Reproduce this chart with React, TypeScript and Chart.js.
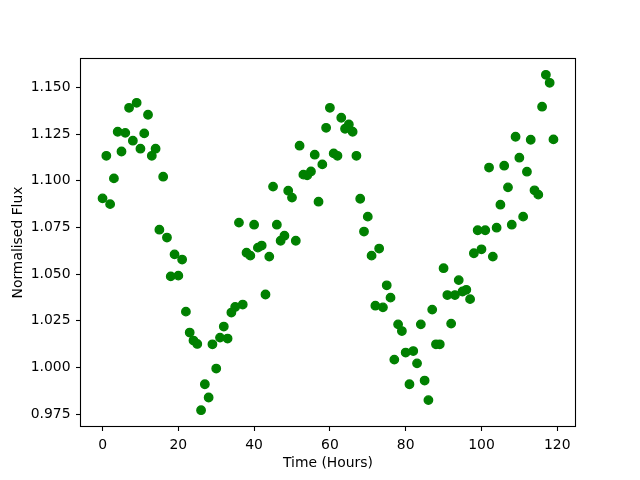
import { useEffect, useRef } from "react";
import { Chart, registerables } from "chart.js";

Chart.register(...registerables);

const hours = [
  0, 1, 2, 3, 4, 5, 6, 7, 8, 9, 10, 11, 12, 13, 14, 15, 16, 17, 18, 19,
  20, 21, 22, 23, 24, 25, 26, 27, 28, 29, 30, 31, 32, 33, 34, 35, 36, 37, 38, 39,
  40, 41, 42, 43, 44, 45, 46, 47, 48, 49, 50, 51, 52, 53, 54, 55, 56, 57, 58, 59,
  60, 61, 62, 63, 64, 65, 66, 67, 68, 69, 70, 71, 72, 73, 74, 75, 76, 77, 78, 79,
  80, 81, 82, 83, 84, 85, 86, 87, 88, 89, 90, 91, 92, 93, 94, 95, 96, 97, 98, 99,
  100, 101, 102, 103, 104, 105, 106, 107, 108, 109, 110, 111, 112, 113, 114, 115, 116, 117, 118, 119,
];

const flux = [
  1.0906, 1.1134, 1.0875, 1.1013, 1.1263, 1.1157, 1.1257, 1.1391, 1.1215, 1.1418,
  1.1172, 1.1254, 1.1354, 1.1134, 1.1172, 1.0738, 1.1022, 1.0696, 1.0488, 1.0606,
  1.0492, 1.0578, 1.0299, 1.0187, 1.0144, 1.0126, 0.9771, 0.991, 0.9839, 1.0124,
  0.9994, 1.016, 1.0219, 1.0155, 1.0294, 1.0324, 1.0776, 1.0337, 1.0615, 1.0599,
  1.0765, 1.0642, 1.0653, 1.0391, 1.0594, 1.0969, 1.0765, 1.0679, 1.0706, 1.0947,
  1.091, 1.0679, 1.1188, 1.1033, 1.1029, 1.105, 1.114, 1.0888, 1.1088, 1.1284,
  1.1391, 1.1147, 1.1134, 1.1338, 1.1279, 1.1302, 1.1263, 1.1134, 1.0904, 1.0728,
  1.0808, 1.0599, 1.0331, 1.0637, 1.0322, 1.044, 1.0374, 1.0042, 1.0231, 1.0195,
  1.008, 0.991, 1.0088, 1.0022, 1.0231, 0.993, 0.9825, 1.031, 1.0124, 1.0124,
  1.0532, 1.0388, 1.0235, 1.0388, 1.0468, 1.0407, 1.0416, 1.0366, 1.0612, 1.0735,
  1.0633, 1.0735, 1.1071, 1.0594, 1.0749, 1.0872, 1.1081, 1.0965, 1.0765, 1.1236,
  1.1124, 1.0808, 1.1049, 1.122, 1.0949, 1.0926, 1.1397, 1.1568, 1.1525, 1.1222,
];

const xTitle = "Time (Hours)";
const yTitle = "Normalised Flux";

const FONT = "DejaVu Sans";

const frameBox = {
  id: "frameBox",
  afterDraw(chart: any) {
    const { ctx, chartArea } = chart;
    ctx.save();
    ctx.strokeStyle = "#000";
    ctx.lineWidth = 1.1;
    ctx.strokeRect(
      Math.round(chartArea.left) + 0.5,
      Math.round(chartArea.top) + 0.5,
      Math.round(chartArea.right - chartArea.left) - 1,
      Math.round(chartArea.bottom - chartArea.top) - 1
    );
    ctx.restore();
  },
};

export default function App() {
  const ref = useRef<HTMLCanvasElement | null>(null);

  useEffect(() => {
    if (!ref.current) return;
    const points = hours.map((h, i) => ({ x: h, y: flux[i] }));
    const tickFont = { family: FONT, size: 13.9 };
    const chart = new Chart(ref.current, {
      type: "scatter",
      data: {
        datasets: [
          {
            data: points,
            backgroundColor: "#008000",
            borderColor: "#008000",
            borderWidth: 1.4,
            pointRadius: 4.2,
            pointHoverRadius: 4.2,
          },
        ],
      },
      plugins: [frameBox],
      options: {
        animation: false,
        responsive: false,
        devicePixelRatio: 1,
        layout: { padding: { left: 0, top: 58, right: 64, bottom: 0 } },
        plugins: {
          legend: { display: false },
          tooltip: { enabled: false },
        },
        scales: {
          x: {
            type: "linear",
            min: -5.95,
            max: 124.95,
            afterFit: (s: any) => {
              s.height = 53;
            },
            ticks: {
              stepSize: 20,
              includeBounds: false,
              padding: 6,
              color: "#000",
              font: tickFont,
              maxRotation: 0,
              autoSkip: false,
              callback: (v: any) => String(v),
            },
            grid: {
              display: true,
              drawOnChartArea: false,
              drawTicks: true,
              tickLength: 4,
              tickColor: "#000",
              tickWidth: 1.1,
            },
            border: { display: false },
            title: {
              display: true,
              text: xTitle,
              color: "#000",
              font: tickFont,
              padding: { top: 0, bottom: 7.8 },
            },
          },
          y: {
            type: "linear",
            min: 0.9681,
            max: 1.1658,
            afterFit: (s: any) => {
              s.width = 80;
            },
            ticks: {
              stepSize: 0.025,
              includeBounds: false,
              padding: 5.5,
              color: "#000",
              font: tickFont,
              autoSkip: false,
              callback: (v: any) => Number(v).toFixed(3),
            },
            grid: {
              display: true,
              drawOnChartArea: false,
              drawTicks: true,
              tickLength: 4,
              tickColor: "#000",
              tickWidth: 1.1,
            },
            border: { display: false },
            title: {
              display: true,
              text: yTitle,
              color: "#000",
              font: tickFont,
              padding: { top: 9.9, bottom: 0 },
            },
          },
        },
      },
    } as any);
    return () => chart.destroy();
  }, []);

  return (
    <div style={{ position: "absolute", left: 0, top: 0, width: 640, height: 480, background: "#fff" }}>
      <canvas ref={ref} width={640} height={480} style={{ display: "block" }} />
    </div>
  );
}
